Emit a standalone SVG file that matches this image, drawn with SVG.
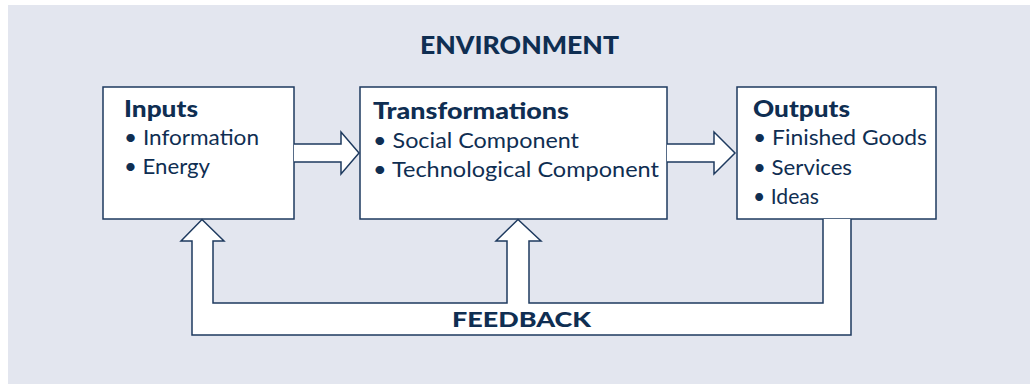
<svg xmlns="http://www.w3.org/2000/svg" width="1030" height="384" viewBox="0 0 1030 384">
<style>
.box{fill:#fff;stroke:#1e3a5f;stroke-width:1.5}
.conn{fill:#fff;stroke:#1e3a5f;stroke-width:1.5;stroke-linejoin:miter}
.t{font-family:Lato,"Open Sans","DejaVu Sans",sans-serif;fill:#0f2e52}
.h{font-weight:900;font-size:22px}
.i{font-size:22px}
</style>
<rect x="0" y="0" width="1030" height="384" fill="#ffffff"/>
<rect x="8" y="5" width="1022" height="379" fill="#e3e6ef"/>
<text class="t" x="420" y="54" font-weight="900" font-size="24" textLength="199" lengthAdjust="spacingAndGlyphs">ENVIRONMENT</text>
<g id="inputs">
<rect class="box" x="103" y="87" width="191" height="132"/>
<text class="t h" x="124" y="117" textLength="74" lengthAdjust="spacingAndGlyphs">Inputs</text>
<text class="t i" x="124" y="145" textLength="135" lengthAdjust="spacingAndGlyphs">• Information</text>
<text class="t i" x="124" y="174" textLength="86" lengthAdjust="spacingAndGlyphs">• Energy</text>
</g>
<g id="transformations">
<rect class="box" x="360" y="87" width="307" height="132"/>
<text class="t h" x="373" y="119" textLength="196" lengthAdjust="spacingAndGlyphs">Transformations</text>
<text class="t i" x="373" y="148" textLength="206" lengthAdjust="spacingAndGlyphs">• Social Component</text>
<text class="t i" x="373" y="177" textLength="286" lengthAdjust="spacingAndGlyphs">• Technological Component</text>
</g>
<g id="outputs">
<rect class="box" x="737" y="87" width="199" height="132"/>
<text class="t h" x="753" y="117" textLength="97" lengthAdjust="spacingAndGlyphs">Outputs</text>
<text class="t i" x="753" y="145" textLength="174" lengthAdjust="spacingAndGlyphs">• Finished Goods</text>
<text class="t i" x="753" y="175" textLength="99" lengthAdjust="spacingAndGlyphs">• Services</text>
<text class="t i" x="753" y="204" textLength="66" lengthAdjust="spacingAndGlyphs">• Ideas</text>
</g>
<g id="connectors">
<path class="conn" d="M294,144 H341 V132 L359,153 L341,174 V162 H294"/>
<path class="conn" d="M667,144 H714 V132 L735,153 L714,174 V162 H667"/>
<path class="conn" d="M823,219 V303 H529 V241 H541 L518,219.5 L496,241 H507 V303 H213 V241 H224 L202,219.5 L181,241 H192 V335 H851 V219"/>
<text class="t" x="452" y="327" font-weight="900" font-size="21" textLength="139" lengthAdjust="spacingAndGlyphs">FEEDBACK</text>
</g>
</svg>
